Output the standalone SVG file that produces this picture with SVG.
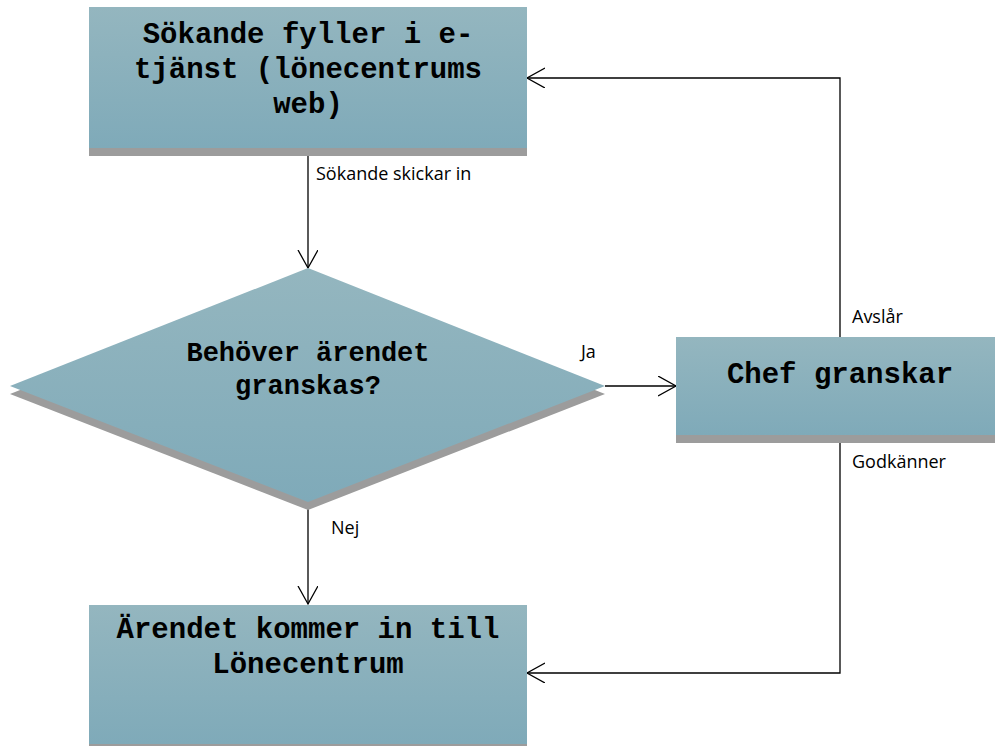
<svg xmlns="http://www.w3.org/2000/svg" width="995" height="746" viewBox="0 0 995 746">
<defs>
<linearGradient id="g" x1="0" y1="0" x2="0" y2="1">
<stop offset="0" stop-color="#94b6bf"/>
<stop offset="1" stop-color="#7faab9"/>
</linearGradient>
<marker id="arr" markerWidth="20" markerHeight="22" refX="18" refY="10" orient="auto" markerUnits="userSpaceOnUse">
<path d="M0,0 L18,10 L0,20" fill="none" stroke="#000" stroke-width="1.3"/>
</marker>
<style>
.shadow{fill:#9c9c9c}
.shape{fill:url(#g)}
.t{font-family:"Liberation Mono","Courier New",monospace;font-weight:bold;fill:#000;text-anchor:middle}
.lbl{font-family:"Open Sans","Liberation Sans",sans-serif;font-size:18px;fill:#000}
.c{fill:none;stroke:#000;stroke-width:1.3}
</style>
</defs>
<rect width="995" height="746" fill="#fff"/>
<g id="connectors">
<line class="c" x1="308" y1="148" x2="308" y2="268" marker-end="url(#arr)"/>
<line class="c" x1="308" y1="502" x2="308" y2="604" marker-end="url(#arr)"/>
<line class="c" x1="605" y1="386" x2="676" y2="386" marker-end="url(#arr)"/>
<polyline class="c" points="840,337 840,78 527,78" marker-end="url(#arr)"/>
<polyline class="c" points="840,436 840,673 527,673" marker-end="url(#arr)"/>
<text class="lbl" x="316" y="180">Sökande skickar in</text>
<text class="lbl" x="581" y="358">Ja</text>
<text class="lbl" x="852" y="323">Avslår</text>
<text class="lbl" x="852" y="468">Godkänner</text>
<text class="lbl" x="331" y="534">Nej</text>
</g>
<g id="node-start">
<rect class="shadow" x="89" y="15" width="438" height="141"/>
<rect class="shape" x="89" y="7" width="438" height="141"/>
<text class="t" font-size="29" x="308" y="43">Sökande fyller i e-</text>
<text class="t" font-size="29" x="308" y="78">tjänst (lönecentrums</text>
<text class="t" font-size="29" x="308" y="113">web)</text>
</g>
<g id="node-decision">
<polygon class="shadow" points="308,276 605,394 308,510 10,394"/>
<polygon class="shape" points="308,268 605,386 308,502 10,386"/>
<text class="t" font-size="27" x="308" y="361">Behöver ärendet</text>
<text class="t" font-size="27" x="308" y="394">granskas?</text>
</g>
<g id="node-chef">
<rect class="shadow" x="676" y="345" width="319" height="98"/>
<rect class="shape" x="676" y="337" width="319" height="98"/>
<text class="t" font-size="29" x="840" y="383">Chef granskar</text>
</g>
<g id="node-end">
<rect class="shadow" x="89" y="613" width="438" height="141"/>
<rect class="shape" x="89" y="605" width="438" height="139"/>
<text class="t" font-size="29" x="308" y="638">Ärendet kommer in till</text>
<text class="t" font-size="29" x="308" y="673">Lönecentrum</text>
</g>
</svg>
